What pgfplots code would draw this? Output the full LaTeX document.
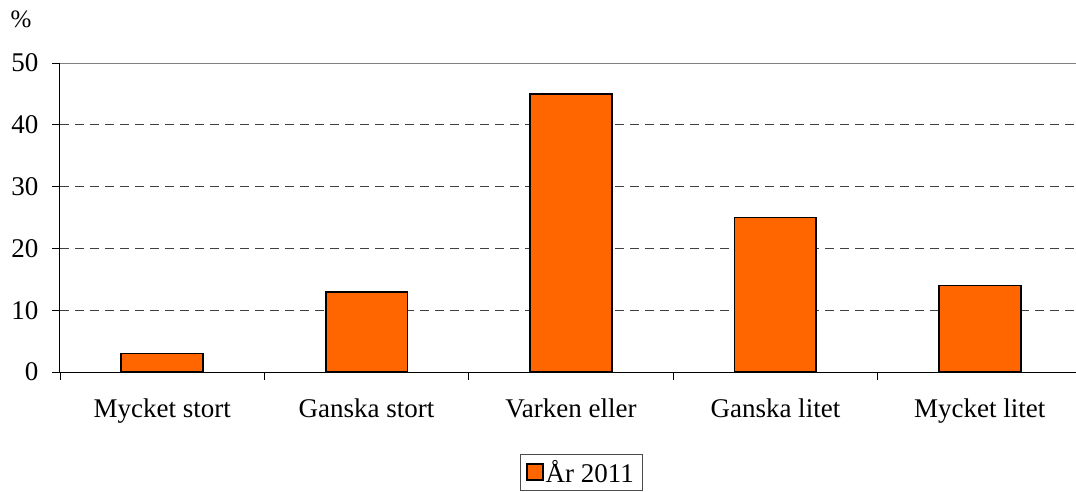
\documentclass[border=0pt]{standalone}
\usepackage{fontspec}
\setmainfont{Liberation Serif}
\usepackage{pgfplots}
\pgfplotsset{compat=1.18}
\definecolor{barorange}{HTML}{FF6600}
\begin{document}
\begin{tikzpicture}
\useasboundingbox (-60pt,-119pt) rectangle (1016pt,372pt);
\begin{axis}[
  scale only axis,
  width=1022pt, height=309pt,
  xmin=0.5, xmax=5.5,
  ymin=0, ymax=50,
  ytick={0,10,20,30,40,50},
  xtick={1,2,3,4,5},
  xticklabels={Mycket stort,Ganska stort,Varken eller,Ganska litet,Mycket litet},
  minor xtick={0.5,1.5,2.5,3.5,4.5},
  major x tick style={draw=none},
  minor x tick style={black, line width=0.8pt},
  minor tick length=8pt,
  major tick length=8pt,
  tick align=outside,
  y tick style={black, line width=0.8pt},
  ymajorgrids,
  grid style={black!75, line width=0.8pt, dash pattern=on 9pt off 6pt},
  axis x line*=bottom,
  axis y line*=left,
  axis line style={black, line width=1pt, -},
  tick label style={font=\fontsize{27}{30}\selectfont},
  /pgf/number format/assume math mode=true,
  xticklabel style={yshift=-15pt},
  yticklabel style={xshift=-10pt},
  ylabel={\%},
  ylabel style={rotate=-90, font=\fontsize{25}{28}\selectfont, at={(axis description cs:0,1)}, anchor=south, xshift=-39pt, yshift=32pt},
  legend style={at={(axis description cs:0.450,-0.265)}, anchor=north west, draw=black!70, line width=0.6pt, font=\fontsize{27}{30}\selectfont, inner xsep=6pt, inner ysep=4pt},
  legend image code/.code={\draw[fill=barorange,draw=black,line width=1.5pt] (0pt,-8pt) rectangle (16pt,8pt);},
  legend cell align=left,
]
\draw[gray, line width=1.5pt] (axis cs:0.5,50) -- (axis cs:5.5,50);
\addplot[ybar, bar width=0.4, fill=barorange, draw=black, line width=1.8pt] coordinates {(1,3) (2,13) (3,45) (4,25) (5,14)};
\addlegendentry{År 2011}
\end{axis}
\end{tikzpicture}
\end{document}
